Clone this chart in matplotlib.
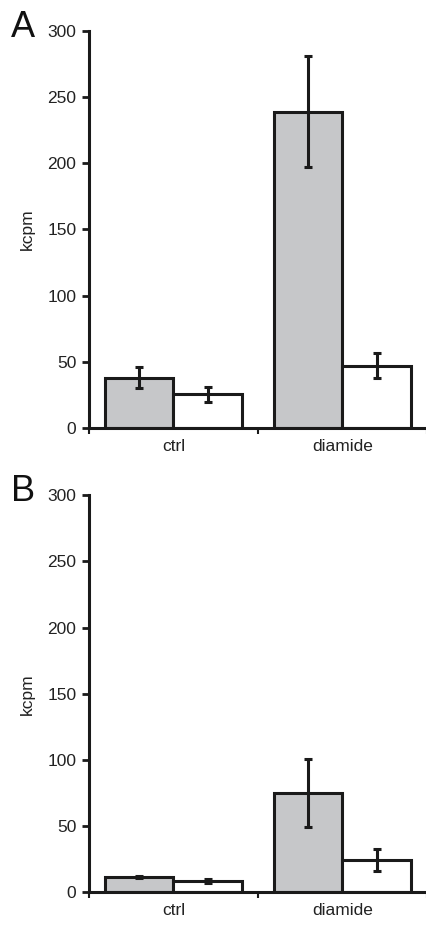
import numpy as np
import matplotlib
matplotlib.use("Agg")
import matplotlib.pyplot as plt

plt.rcParams['font.family'] = ['Liberation Sans', 'DejaVu Sans']

# ---- data (kcpm) ----
categories = ["ctrl", "diamide"]
a_gray = [38, 239]
a_gray_err = [8, 42]
a_white = [25.5, 47]
a_white_err = [5.5, 9.5]
b_gray = [11.5, 75]
b_gray_err = [0.8, 26]
b_white = [8.5, 24.5]
b_white_err = [1.2, 8.5]

panels = [
    ("A", a_gray, a_gray_err, a_white, a_white_err),
    ("B", b_gray, b_gray_err, b_white, b_white_err),
]

ink = "#1a1a1a"
gray = "#c6c7c9"
lw = 2.2
bw = 0.405
fs = 12.5

fig = plt.figure(figsize=(4.27, 9.27), dpi=100)
fig.set_facecolor("white")

bottoms = [0.5383, 0.0374]
for (letter, g, ge, w, we), b in zip(panels, bottoms):
    ax = fig.add_axes([0.2084, b, 0.7916, 0.4283])
    x = np.arange(len(categories))
    ax.bar(x - bw / 2, g, bw, color=gray, edgecolor=ink, linewidth=lw, zorder=2)
    ax.bar(x + bw / 2, w, bw, color="white", edgecolor=ink, linewidth=lw, zorder=2)
    ax.errorbar(x - bw / 2, g, yerr=ge, fmt="none", ecolor=ink, elinewidth=lw,
                capsize=3, capthick=lw, zorder=3)
    ax.errorbar(x + bw / 2, w, yerr=we, fmt="none", ecolor=ink, elinewidth=lw,
                capsize=3, capthick=lw, zorder=3)

    ax.set_xlim(-0.5, len(categories) - 0.5)
    ax.set_ylim(0, 300)
    ax.set_yticks(np.arange(0, 301, 50))
    ax.set_xticks(np.arange(-0.5, len(categories), 1.0))
    ax.set_xticklabels([])
    ax.set_xticks(x, minor=True)
    ax.set_xticklabels(categories, minor=True)
    ax.tick_params(axis="x", which="minor", length=0, pad=8, labelsize=fs, colors="#222222")
    ax.tick_params(axis="x", which="major", direction="out", length=4, width=1.5, color=ink)
    ax.tick_params(axis="y", direction="out", length=5, width=2, color=ink,
                   labelsize=fs, labelcolor="#222222", pad=4)
    for s in ["top", "right"]:
        ax.spines[s].set_visible(False)
    for s in ["left", "bottom"]:
        ax.spines[s].set_linewidth(lw)
        ax.spines[s].set_color(ink)
    ax.set_ylabel("kcpm", fontsize=fs, color="#222222", labelpad=9)
    ax.set_facecolor("white")

    fig.text(0.025, b + 0.4283 + 0.004, letter, fontsize=26, color="#111111",
             ha="left", va="center")

fig.savefig("out.png", dpi=100, facecolor="white")
